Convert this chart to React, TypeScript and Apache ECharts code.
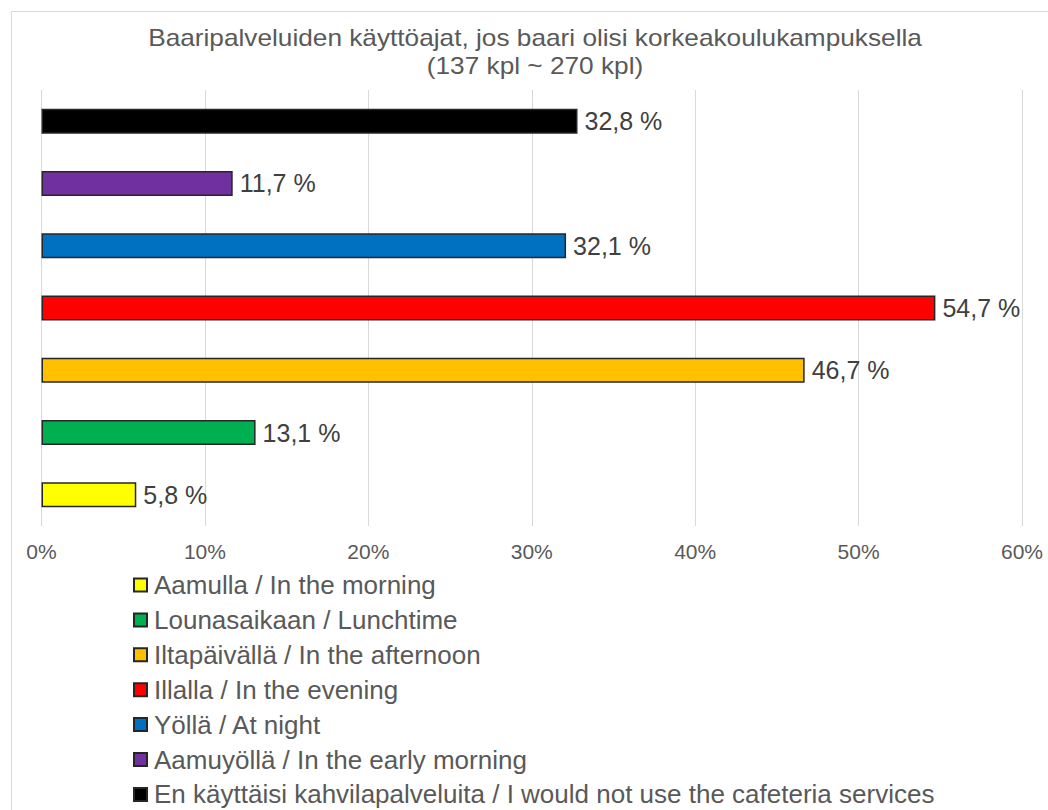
import React, { useEffect, useRef } from "react";
import * as echarts from "echarts";

const titleLines = [
  "Baaripalveluiden käyttöajat, jos baari olisi korkeakoulukampuksella",
  "(137 kpl ~ 270 kpl)",
];
const seriesNames = [
  "Aamulla / In the morning",
  "Lounasaikaan / Lunchtime",
  "Iltapäivällä / In the afternoon",
  "Illalla / In the evening",
  "Yöllä / At night",
  "Aamuyöllä / In the early morning",
  "En käyttäisi kahvilapalveluita / I would not use the cafeteria services",
];
const values = [5.8, 13.1, 46.7, 54.7, 32.1, 11.7, 32.8];
const colors = ["#FFFF00", "#00B050", "#FFC000", "#FF0000", "#0070C0", "#7030A0", "#000000"];
const xTicks = [0, 10, 20, 30, 40, 50, 60];

const FONT = "Liberation Sans, Arial, sans-serif";

export default function App() {
  const ref = useRef<HTMLDivElement>(null);
  useEffect(() => {
    document.body.style.margin = "0";
    const chart = echarts.init(ref.current!, null, { renderer: "svg" });
    const series = seriesNames.map((name, i) => ({
      name,
      type: "bar",
      stack: "all",
      barWidth: 25,
      data: values.map((v, j) => (j === i ? v : null)),
      itemStyle: { color: colors[i], borderColor: "#262626", borderWidth: 1.5 },
      label: {
        show: true,
        position: "right",
        distance: 7,
        fontFamily: FONT,
        fontSize: 25,
        color: "#404040",
        formatter: (p: any) => String(p.value).replace(".", ",") + " %",
      },
    }));
    chart.setOption({
      animation: false,
      backgroundColor: "#ffffff",
      textStyle: { fontFamily: FONT },
      graphic: [
        {
          type: "rect",
          shape: { x: 11.5, y: 11.5, width: 1100, height: 900 },
          style: { fill: "none", stroke: "#d9d9d9", lineWidth: 1 },
          silent: true,
        },
        ...titleLines.map((t, i) => ({
          type: "text",
          x: 535,
          y: 38 + i * 28,
          scaleX: 1.14,
          style: {
            text: t,
            fontFamily: FONT,
            fontSize: 23,
            fill: "#595959",
            textAlign: "center",
            textVerticalAlign: "middle",
          },
        })),
      ],
      grid: { left: 41.5, right: 26, top: 90, bottom: 810 - 526, containLabel: false },
      xAxis: {
        type: "value",
        min: 0,
        max: 60,
        interval: 10,
        axisLine: { show: false },
        axisTick: { show: false },
        splitLine: { show: true, lineStyle: { color: "#d9d9d9", width: 1 } },
        axisLabel: {
          margin: 15,
          fontFamily: FONT,
          fontSize: 21,
          color: "#595959",
          formatter: (v: number) => (xTicks.includes(v) ? v + "%" : ""),
        },
      },
      yAxis: {
        type: "category",
        data: seriesNames,
        axisLine: { show: false },
        axisTick: { show: false },
        axisLabel: { show: false },
      },
      legend: {
        orient: "vertical",
        left: 133,
        top: 572,
        padding: 0,
        height: 260,
        itemWidth: 13,
        itemHeight: 13,
        itemGap: 8.9,
        icon: "rect",
        data: seriesNames,
        textStyle: { fontFamily: FONT, fontSize: 26, color: "#595959", lineHeight: 26, padding: [0, 0, 0, 2] },
        selectedMode: false,
      },
      series,
    });
    return () => chart.dispose();
  }, []);
  return <div ref={ref} style={{ width: 1048, height: 810 }} />;
}
